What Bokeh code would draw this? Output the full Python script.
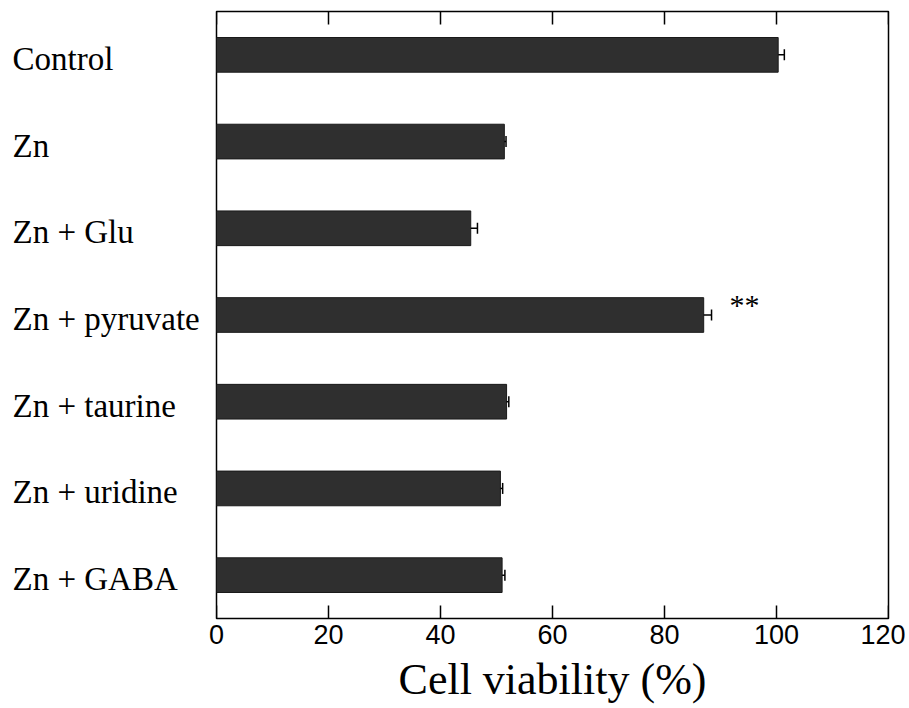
import math
from bokeh.plotting import figure
from bokeh.layouts import row
from bokeh.models import ColumnDataSource, Range1d, FixedTicker
from bokeh.core.properties import value
from bokeh.embed import file_html
from bokeh.resources import INLINE

categories = ["Control", "Zn", "Zn + Glu", "Zn + pyruvate",
              "Zn + taurine", "Zn + uridine", "Zn + GABA"]
viability = [100.3, 51.4, 45.4, 87.0, 51.8, 50.7, 51.0]
sem = [1.1, 0.3, 1.2, 1.4, 0.4, 0.4, 0.5]
sig_category = ["Zn + pyruvate"]
sig_text = ["**"]
sig_x = [94.3]
x_ticks = [0, 20, 40, 60, 80, 100, 120]

SERIF = "Liberation Serif"
NARROW = "'Liberation Sans Narrow', 'Arial Narrow', 'Liberation Sans', sans-serif"

TOP_B, BOT_B = 11, 87
HEIGHT = 706
TICK_LEN = 0.15  # inward tick length, in category slots

n_cat = len(categories)
# categories listed top to bottom: first one gets the highest slot
ypos = {c: n_cat - 1 - i for i, c in enumerate(categories)}
y_range = Range1d(-0.5, n_cat - 0.5)

src = ColumnDataSource(dict(
    cat=categories,
    y=[ypos[c] for c in categories],
    val=viability,
    err_end=[v + e for v, e in zip(viability, sem)],
))

# ---- label panel (left) ----
lab = figure(width=206, height=HEIGHT, output_backend="svg", toolbar_location=None,
             y_range=y_range, x_range=Range1d(0, 206),
             min_border_left=0, min_border_right=0,
             min_border_top=TOP_B, min_border_bottom=BOT_B,
             x_axis_location=None, y_axis_location=None)
lab.grid.visible = False
lab.outline_line_color = None
lab.text(x=12, y="y", text="cat", source=src,
         text_font=value(SERIF), text_font_size="33px", y_offset=4,
         text_align="left", text_baseline="middle", text_color="black")

# ---- main plot ----
p = figure(width=699, height=HEIGHT, output_backend="svg", toolbar_location=None,
           y_range=y_range, x_range=Range1d(0, 120),
           min_border_left=10, min_border_right=17,
           min_border_top=TOP_B, min_border_bottom=BOT_B,
           y_axis_location=None)
p.grid.visible = False
p.outline_line_color = "black"
p.outline_line_width = 1.5

# bars
p.hbar(y="y", right="val", left=0, height=0.4, source=src,
       fill_color="#2f2f2f", line_color="#1a1a1a", line_width=1)
# one-sided error bars
p.segment(x0="val", y0="y", x1="err_end", y1="y", source=src,
          line_color="black", line_width=1.5)
p.scatter(x="err_end", y="y", source=src, marker="dash", angle=math.pi / 2,
          size=11, line_color="black", line_width=1.5)

# significance marker
p.text(x=sig_x, y=[ypos[c] for c in sig_category], text=sig_text,
       text_font=value(SERIF), text_font_size="30px", text_align="center",
       text_baseline="middle", y_offset=-11, text_color="black")

# inward ticks on top and bottom edges
n = len(x_ticks)
y_top, y_bot = y_range.end, y_range.start
p.segment(x0=x_ticks, x1=x_ticks, y0=[y_top] * n, y1=[y_top - TICK_LEN] * n,
          line_color="black", line_width=1.5)
p.segment(x0=x_ticks, x1=x_ticks, y0=[y_bot] * n, y1=[y_bot + TICK_LEN] * n,
          line_color="black", line_width=1.5)

# bottom axis: labels only
xa = p.xaxis[0]
xa.ticker = FixedTicker(ticks=x_ticks)
xa.minor_tick_line_color = None
xa.major_tick_in = 0
xa.major_tick_out = 0
xa.axis_line_color = None
xa.major_label_text_font = NARROW
xa.major_label_text_font_size = "27px"
xa.major_label_text_color = "black"
xa.major_label_standoff = 6
xa.axis_label = "Cell viability (%)"
xa.axis_label_text_font = SERIF
xa.axis_label_text_font_size = "44px"
xa.axis_label_text_font_style = "normal"
xa.axis_label_text_color = "black"
xa.axis_label_standoff = 8

layout = row(lab, p)
open("out.html", "w").write(file_html(layout, INLINE))
